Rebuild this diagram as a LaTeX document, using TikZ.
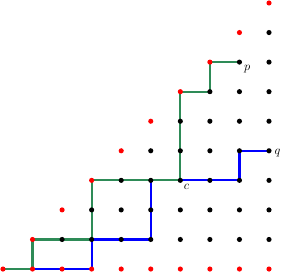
\documentclass[tikz,border=0pt]{standalone}
\usepackage{tikz}
\usetikzlibrary{positioning}
\definecolor{pathgreen}{RGB}{46,139,87}
\definecolor{pathblue}{RGB}{0,0,255}

\begin{document}
\begin{tikzpicture}[x=0.85cm,y=0.85cm,
    dot/.style={circle,fill=#1,inner sep=0pt,minimum size=4.2pt},
    bluepath/.style={pathblue,line width=1.8pt},
    greenpath/.style={pathgreen,line width=1.8pt},
    lbl/.style={inner sep=1pt,font=\normalsize}
  ]
    \useasboundingbox (-0.1,-0.135) rectangle (9.507,9.101);

    \foreach \i in {0,...,9}
      \foreach \j in {0,...,\i}
        \coordinate (v-\i-\j) at (\i,\j);

    \draw[bluepath] (v-1-0) -- (v-3-0) -- (v-3-1) -- (v-5-1) -- (v-5-3)
      -- (v-8-3) -- (v-8-4) -- (v-9-4);
    \draw[greenpath] (v-0-0) -- (v-1-0) -- (v-1-1) -- (v-3-1) -- (v-3-3)
      -- (v-6-3) -- (v-6-6) -- (v-7-6) -- (v-7-7) -- (v-8-7);

    \foreach \i in {0,...,9}
      \foreach \j in {0,...,\i}{
        \ifnum\j=0
          \node[dot=red] (d-\i-\j) at (v-\i-\j) {};
        \else\ifnum\i=\j
          \node[dot=red] (d-\i-\j) at (v-\i-\j) {};
        \else
          \node[dot=black] (d-\i-\j) at (v-\i-\j) {};
        \fi\fi
      }

    \node[lbl,below right=0pt and 1pt of d-8-7] (p) {$p$};
    \node[lbl,right=1pt of d-9-4,yshift=-2pt] (q) {$q$};
    \node[lbl,below right=0pt and 0pt of d-6-3] (c) {$c$};
  \end{tikzpicture}
\end{document}
